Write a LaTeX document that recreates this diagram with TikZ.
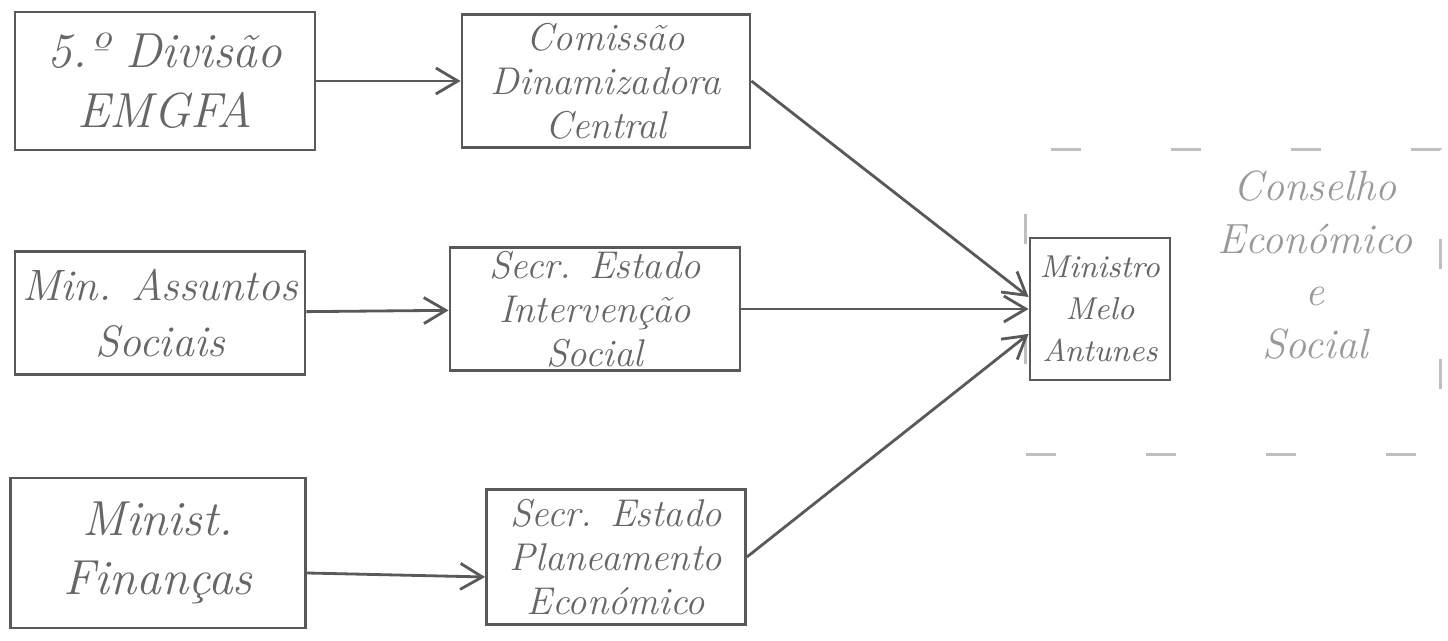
\documentclass[tikz,border=0pt]{standalone}
\usepackage{tikz}
\usetikzlibrary{arrows.meta}

\begin{document}
\begin{tikzpicture}[->, >={Straight Barb[length=2.2mm,width=2.6mm]}, thick, draw=black!65,
    box/.style = {draw=black!65, rectangle, inner sep=1pt, align=center, text=black!60,
                  font=\itshape\fontsize{14}{17}\selectfont},
    three/.style = {box, font=\itshape\fontsize{11}{12.5}\selectfont},
    small/.style = {box, font=\itshape\fontsize{9}{12}\selectfont},
    group/.style = {draw=black!25, dashed, dash pattern=on 3mm off 9mm, rectangle}]

    \useasboundingbox (0,0) rectangle (14.48,6.41);

    % Council (dashed)
    \node[group, minimum width=4.15cm, minimum height=3.05cm] (ces) at (12.33, 3.39) {};
    \node[text=black!40, align=center, font=\itshape\fontsize{12}{15}\selectfont]
        (cestext) at (13.15, 3.76) {Conselho\\Económico\\e\\Social};

    % Nodes
    \node[box, minimum width=3.0cm, minimum height=1.38cm] (div) at (1.65, 5.60) {5.º Divisão\\EMGFA};
    \node[three, minimum width=2.88cm, minimum height=1.33cm] (cdc) at (6.06, 5.60) {Comissão\\Dinamizadora\\Central};
    \node[box, font=\itshape\fontsize{12.5}{16}\selectfont, minimum width=2.9cm, minimum height=1.23cm]
        (mas) at (1.60, 3.28) {Min. Assuntos\\Sociais};
    \node[three, minimum width=2.9cm, minimum height=1.22cm] (sei) at (5.95, 3.32) {Secr. Estado\\Intervenção\\Social};
    \node[box, minimum width=2.95cm, minimum height=1.5cm] (mfi) at (1.58, 0.88) {Minist.\\Finanças};
    \node[three, minimum width=2.59cm, minimum height=1.35cm] (sep) at (6.16, 0.84) {Secr. Estado\\Planeamento\\Económico};
    \node[small, minimum width=1.4cm, minimum height=1.42cm] (mma) at (11.0, 3.32) {Ministro\\Melo\\Antunes};

    % Edges
    \draw (div) -- (cdc);
    \draw (mas) -- (sei);
    \draw ([yshift=-2mm]mfi.east) -- ([yshift=-2mm]sep.west);

    \draw (cdc.east) -- ([yshift=1.2mm]mma.west);
    \draw (sei.east) -- (mma.west);
    \draw (sep.east) -- ([yshift=-2.5mm]mma.west);

\end{tikzpicture}
\end{document}
